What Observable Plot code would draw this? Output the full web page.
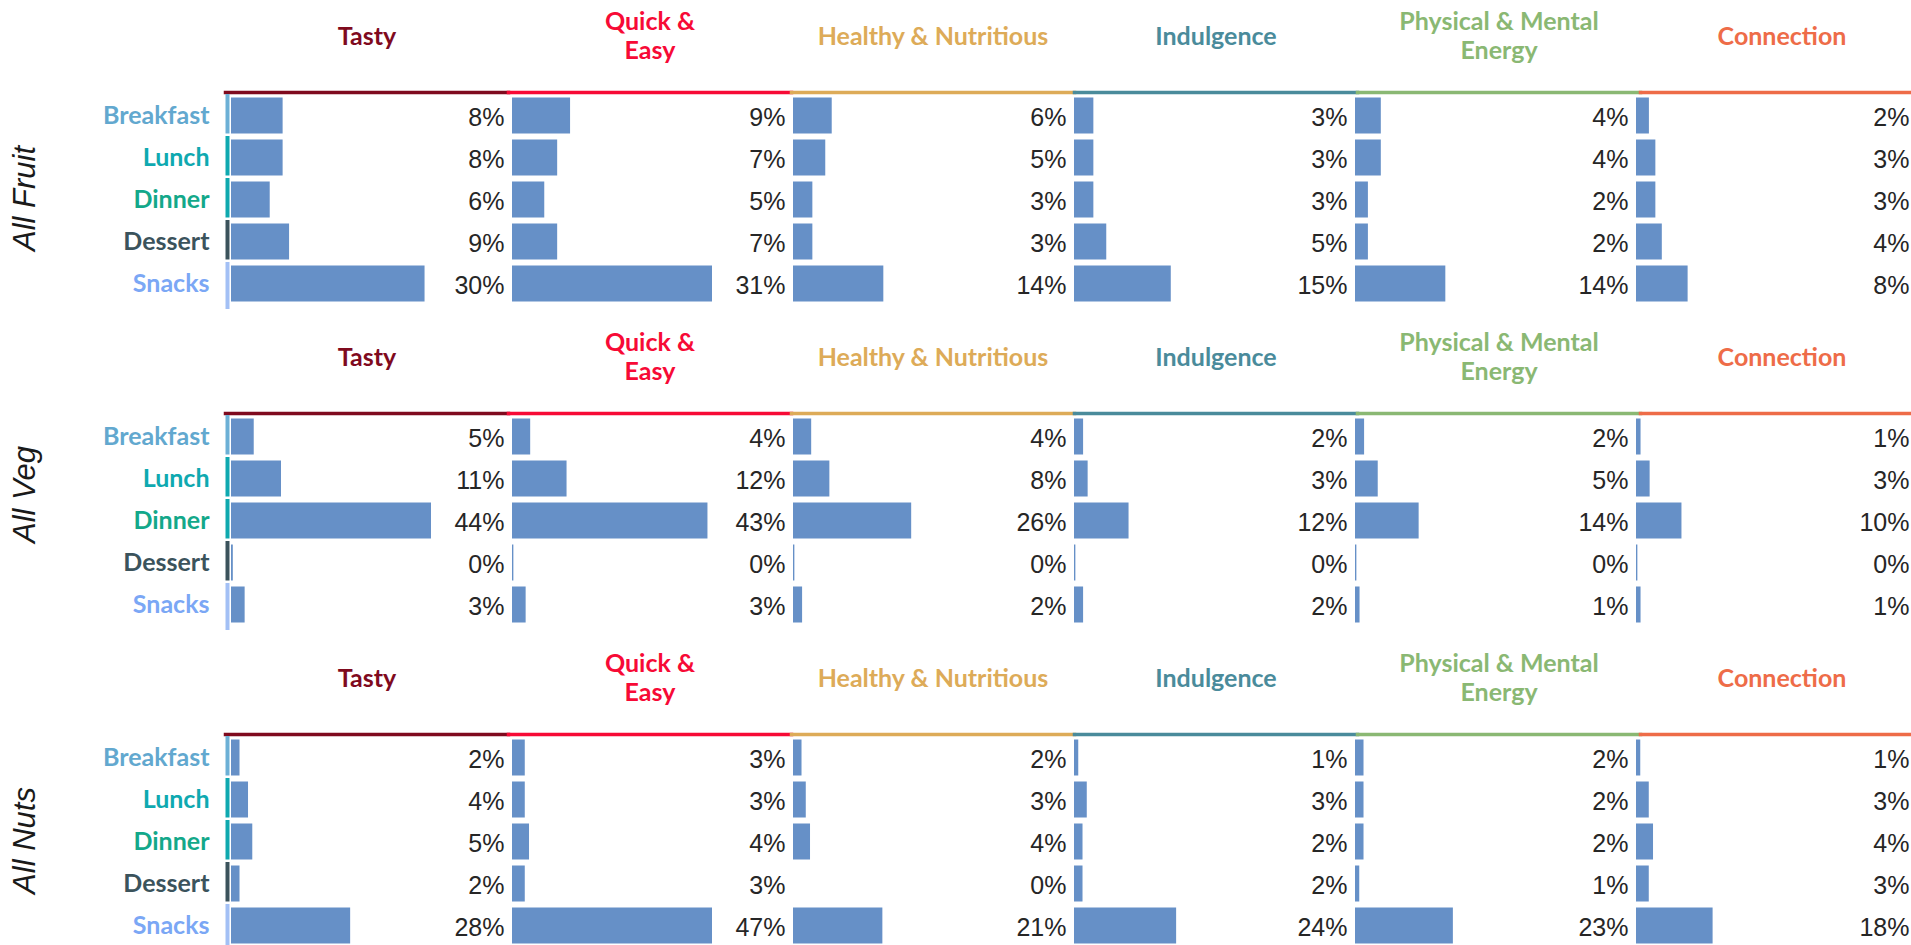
<!DOCTYPE html>
<html>
<head>
<meta charset="utf-8">
<script src="https://cdn.jsdelivr.net/npm/d3@7"></script>
<script src="https://cdn.jsdelivr.net/npm/@observablehq/plot@0.6"></script>
<style>
  html, body { margin: 0; padding: 0; background: #fff; overflow: hidden; width: 1911px; height: 945px; }
  #chart svg { display: block; }
</style>
</head>
<body>
<div id="chart"></div>
<script>
// ---- data ----
const groups = ["All Fruit", "All Veg", "All Nuts"];
const attributes = ["Tasty", "Quick & Easy", "Healthy & Nutritious", "Indulgence", "Physical & Mental Energy", "Connection"];
const attributeTitles = ["Tasty", "Quick &\nEasy", "Healthy & Nutritious", "Indulgence", "Physical & Mental\nEnergy", "Connection"];
const attributeColors = ["#7f0a1e", "#f70a36", "#ddab58", "#4a8b9b", "#8ab873", "#ee6c48"];
const meals = ["Breakfast", "Lunch", "Dinner", "Dessert", "Snacks"];
const mealTextColors = ["#62a8cf", "#0fa9b0", "#13a88a", "#3b535c", "#7ba7f5"];
const mealMarkerColors = ["#6cb0d6", "#0fa9b0", "#0fa9ae", "#3b535c", "#a3c0f5"];
const barColor = "#6690c7";

// values in %, one array per attribute (order: Breakfast, Lunch, Dinner, Dessert, Snacks)
const fruitValues = [
  [8, 8, 6, 9, 30],
  [9, 7, 5, 7, 31],
  [6, 5, 3, 3, 14],
  [3, 3, 3, 5, 15],
  [4, 4, 2, 2, 14],
  [2, 3, 3, 4, 8]
];
const vegValues = [
  [5, 11, 44, 0.4, 3],
  [4, 12, 43, 0.3, 3],
  [4, 8, 26, 0.3, 2],
  [2, 3, 12, 0.3, 2],
  [2, 5, 14, 0.3, 1],
  [1, 3, 10, 0.3, 1]
];
const nutsValues = [
  [2, 4, 5, 2, 28],
  [3, 3, 4, 3, 47],
  [2, 3, 4, 0, 21],
  [1, 3, 2, 2, 24],
  [2, 2, 2, 1, 23],
  [1, 3, 4, 3, 18]
];
const groupValues = [fruitValues, vegValues, nutsValues];

// ---- chart ----
const root = document.getElementById("chart");
const W = 1911, H = 321;
const groupLabelShift = [0, -25, 0];

groups.forEach((group, gi) => {
  const rows = [];
  attributes.forEach((a, ai) => meals.forEach((m, mi) => rows.push({attribute: a, meal: m, value: groupValues[gi][ai][mi]})));
  const maxValue = d3.max(rows, d => d.value);
  const first = attributes[0];

  const marks = [];
  attributes.forEach((a, ai) => {
    marks.push(Plot.frame({fx: () => a, anchor: "top", stroke: attributeColors[ai], strokeWidth: 3.5, insetRight: -2, dx: 2 * ai}));
    marks.push(Plot.text([a], {
      fx: d => d, frameAnchor: "top", dy: -57, dx: 2 * ai + 1,
      text: () => attributeTitles[ai], fill: attributeColors[ai],
      fontFamily: "Lato", fontWeight: "bold", fontSize: 25, lineHeight: 1.16, lineAnchor: "middle"
    }));
  });

  marks.push(Plot.barX(rows, {fx: "attribute", y: "meal", x: "value", fill: barColor, insetTop: 4.5, insetBottom: 1.5}));

  marks.push(Plot.tickX(meals.slice(0, 4), {
    fx: () => first, y: d => d, x: () => 0, dx: -4,
    stroke: d => mealMarkerColors[meals.indexOf(d)], strokeWidth: 4, insetTop: 1, insetBottom: 1.5
  }));
  marks.push(Plot.tickX(meals.slice(4), {
    fx: () => first, y: d => d, x: () => 0, dx: -4,
    stroke: d => mealMarkerColors[meals.indexOf(d)], strokeWidth: 4, insetTop: 1, insetBottom: -6
  }));

  marks.push(Plot.text(meals, {
    fx: () => first, y: d => d, x: () => 0, dx: -22, dy: 1,
    text: d => d, textAnchor: "end",
    fill: d => mealTextColors[meals.indexOf(d)],
    fontFamily: "Lato", fontWeight: "bold", fontSize: 25
  }));

  marks.push(Plot.text(rows, {
    fx: "attribute", y: "meal", frameAnchor: "right", textAnchor: "end", dx: -2, dy: 3,
    text: d => `${Math.round(d.value)}%`, fill: "#262626",
    fontFamily: "Liberation Sans", fontSize: 25
  }));

  marks.push(Plot.text([group], {
    fx: () => first, y: () => meals[2], x: () => 0, dx: -206, dy: groupLabelShift[gi], rotate: -90,
    text: d => d, fill: "#1a1a1a",
    fontFamily: "Liberation Sans", fontStyle: "italic", fontSize: 31
  }));

  const svg = Plot.plot({
    width: W, height: H,
    marginLeft: 225, marginRight: 0, marginTop: 92, marginBottom: H - 304,
    x: {domain: [0, maxValue], insetLeft: 6, insetRight: 75, axis: null},
    y: {domain: meals, padding: 0, axis: null},
    fx: {domain: attributes, padding: 0, axis: null},
    color: {type: "identity"},
    style: {fontFamily: "Liberation Sans", background: "white", overflow: "visible"},
    marks
  });
  root.appendChild(svg);
});
</script>
</body>
</html>
